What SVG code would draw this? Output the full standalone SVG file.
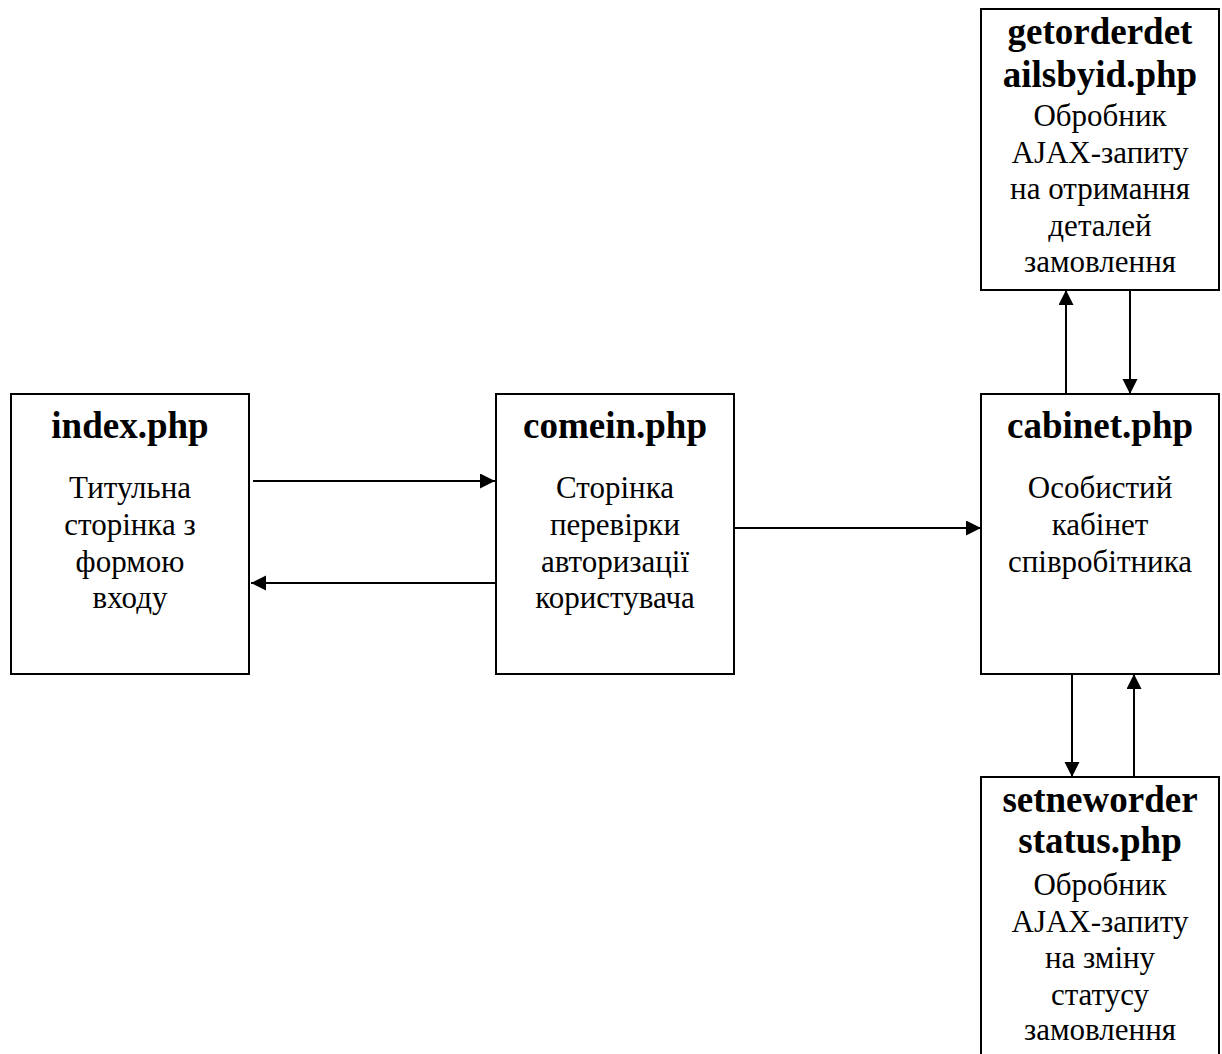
<svg xmlns="http://www.w3.org/2000/svg" width="1222" height="1054" viewBox="0 0 1222 1054">
<style>
  .box { fill: #fff; stroke: #000; stroke-width: 2; }
  .t { font-family: "Liberation Serif", "Times New Roman", serif; font-size: 37px; font-weight: bold; text-anchor: middle; fill: #000; }
  .b { font-family: "Liberation Serif", "Times New Roman", serif; font-size: 31px; text-anchor: middle; fill: #000; }
  .c { stroke: #000; stroke-width: 2; fill: none; marker-end: url(#ah); }
</style>
<defs>
  <marker id="ah" markerUnits="userSpaceOnUse" markerWidth="16" markerHeight="16" refX="15" refY="7.5" orient="auto">
    <path d="M0,0 L15,7.5 L0,15 z" fill="#000"/>
  </marker>
</defs>
<rect width="1222" height="1054" fill="#fff"/>

<g id="index">
  <rect class="box" x="11" y="394" width="238" height="280"/>
  <text class="t" x="130" y="438">index.php</text>
  <text class="b" x="130" y="498">Титульна</text>
  <text class="b" x="130" y="535">сторінка з</text>
  <text class="b" x="130" y="572">формою</text>
  <text class="b" x="130" y="608">входу</text>
</g>

<g id="comein">
  <rect class="box" x="496" y="394" width="238" height="280"/>
  <text class="t" x="615" y="438">comein.php</text>
  <text class="b" x="615" y="498">Сторінка</text>
  <text class="b" x="615" y="535">перевірки</text>
  <text class="b" x="615" y="572">авторизації</text>
  <text class="b" x="615" y="608">користувача</text>
</g>

<g id="cabinet">
  <rect class="box" x="981" y="394" width="238" height="280"/>
  <text class="t" x="1100" y="438">cabinet.php</text>
  <text class="b" x="1100" y="498">Особистий</text>
  <text class="b" x="1100" y="535">кабінет</text>
  <text class="b" x="1100" y="572">співробітника</text>
</g>

<g id="getorderdetailsbyid">
  <rect class="box" x="981" y="9" width="238" height="281"/>
  <text class="t" x="1100" y="44">getorderdet</text>
  <text class="t" x="1100" y="87">ailsbyid.php</text>
  <text class="b" x="1100" y="126">Обробник</text>
  <text class="b" x="1100" y="163">AJAX-запиту</text>
  <text class="b" x="1100" y="199">на отримання</text>
  <text class="b" x="1100" y="236">деталей</text>
  <text class="b" x="1100" y="272">замовлення</text>
</g>

<g id="setneworderstatus">
  <rect class="box" x="981" y="777" width="238" height="300"/>
  <text class="t" x="1100" y="812">setneworder</text>
  <text class="t" x="1100" y="853">status.php</text>
  <text class="b" x="1100" y="895">Обробник</text>
  <text class="b" x="1100" y="932">AJAX-запиту</text>
  <text class="b" x="1100" y="968">на зміну</text>
  <text class="b" x="1100" y="1005">статусу</text>
  <text class="b" x="1100" y="1040">замовлення</text>
</g>

<g id="connectors">
  <path class="c" d="M253,481 L495,481"/>
  <path class="c" d="M496,583 L251,583"/>
  <path class="c" d="M734,528 L981,528"/>
  <path class="c" d="M1066,394 L1066,290"/>
  <path class="c" d="M1130,290 L1130,394"/>
  <path class="c" d="M1072,674 L1072,777"/>
  <path class="c" d="M1134,777 L1134,674"/>
</g>
</svg>
